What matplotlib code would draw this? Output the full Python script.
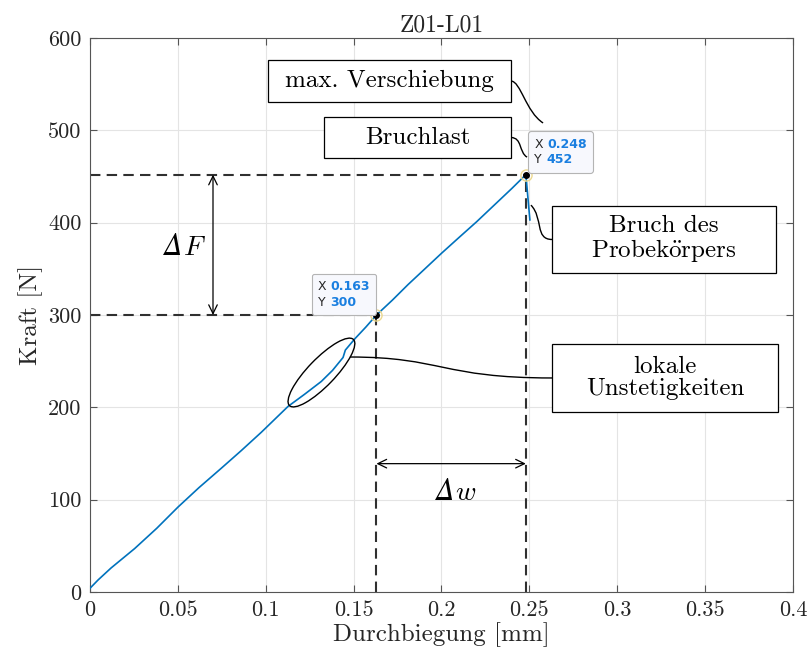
import numpy as np
import matplotlib
matplotlib.use('Agg')
import matplotlib.pyplot as plt
from matplotlib.patches import Ellipse, PathPatch, Rectangle
from matplotlib.path import Path
from matplotlib.transforms import ScaledTranslation
from matplotlib.offsetbox import TextArea, HPacker, VPacker, AnnotationBbox

plt.rcParams['font.family'] = 'cmr10'
plt.rcParams['mathtext.fontset'] = 'cm'
plt.rcParams['axes.formatter.use_mathtext'] = True

# Messkurve Z01-L01
durchbiegung = [0, 0.0046, 0.012, 0.0254, 0.038, 0.0501, 0.062, 0.0747, 0.086,
                0.0975, 0.1127, 0.122, 0.1316, 0.138, 0.1440, 0.1453, 0.1506,
                0.157, 0.163, 0.172, 0.181, 0.190, 0.2001, 0.210, 0.220, 0.230,
                0.240, 0.248, 0.2503]
kraft = [4, 13, 26, 47, 69, 92, 113, 134, 153,
         173, 201, 214, 228, 240, 254, 262, 274,
         287, 300, 316, 333, 349, 367, 384, 401, 419,
         437, 452, 403]

# Datenpunkte (Data Tips)
tip_x = [0.163, 0.248]
tip_y = [300, 452]

x_ticks = [0, 0.05, 0.1, 0.15, 0.2, 0.25, 0.3, 0.35, 0.4]
x_labels = ['0', '0.05', '0.1', '0.15', '0.2', '0.25', '0.3', '0.35', '0.4']
y_ticks = [0, 100, 200, 300, 400, 500, 600]
y_labels = ['0', '100', '200', '300', '400', '500', '600']

blau = '#0072BD'

fig = plt.figure(figsize=(8.12, 6.61), dpi=100)
ax = fig.add_axes([0.1108, 0.1044, 0.8658, 0.8381])

ax.plot(durchbiegung, kraft, color=blau, lw=1.2, zorder=3)

# Hilfslinien
ls = (0, (5, 3))
for xx, yy in zip(tip_x, tip_y):
    ax.plot([0, xx], [yy, yy], color='#303030', lw=1.5, ls=ls, zorder=2)
    ax.plot([xx, xx], [0, yy], color='#303030', lw=1.5, ls=ls, zorder=2)

# Delta F / Delta w
pfeil = dict(arrowstyle='<->,head_length=0.45,head_width=0.22', lw=0.9,
             color='k', shrinkA=0, shrinkB=0, mutation_scale=14)
ax.annotate('', xy=(0.07, tip_y[1]), xytext=(0.07, tip_y[0]), arrowprops=pfeil)
ax.annotate('', xy=(tip_x[1], 139), xytext=(tip_x[0], 139), arrowprops=pfeil)

def delta(x, y, buchstabe):
    # kursives Delta + kursiver Buchstabe auf gemeinsamer Grundlinie
    ax.annotate('Δ', xy=(x, y), xytext=(-0.3, 0), textcoords='offset points',
                fontsize=22, family='STIXGeneral', style='italic',
                ha='right', va='baseline')
    ax.annotate('$%s$' % buchstabe, xy=(x, y), xytext=(0.3, 0), textcoords='offset points',
                fontsize=20, ha='left', va='baseline')

delta(0.0529, 365, 'F')
delta(0.2077, 99.6, 'w')

# Data Tips
for xx, yy in zip(tip_x, tip_y):
    ax.plot(xx, yy, 'o', ms=8, mfc='none', mec='#ecd98f', mew=1.0, zorder=5)
    ax.plot(xx, yy, 'o', ms=4, color='k', zorder=6)

def datatip(xx, yy, sx, sy, ha):
    f = dict(family='DejaVu Sans', size=9)
    zeilen = []
    for k, v in (('X', '%g' % xx), ('Y', '%g' % yy)):
        zeilen.append(HPacker(children=[TextArea(k, textprops=dict(color='#262626', **f)),
                                        TextArea(v, textprops=dict(color='#1a7fe0', weight='bold', **f))],
                              sep=3, pad=0))
    box = VPacker(children=zeilen, sep=2, pad=0, align='left')
    ab = AnnotationBbox(box, (xx, yy), xybox=(sx, sy), boxcoords='offset points',
                        box_alignment=(ha, 0), frameon=True,
                        bboxprops=dict(boxstyle='round,pad=0.45,rounding_size=0.2',
                                       fc='#f7f8fd', ec='#b4b4b4', lw=0.8))
    ab.set_zorder(7)
    ax.add_artist(ab)

datatip(tip_x[0], tip_y[0], -4.5, 4.5, 1)
datatip(tip_x[1], tip_y[1], 6, 6, 0)

# Textfelder (x0, x1, y0, y1)
felder = [
    ('max. Verschiebung', (0.1013, 0.2395, 530.7, 576.2)),
    ('Bruchlast', (0.1331, 0.2395, 470.0, 514.4)),
    ('Bruch des\nProbek$\\ddot{\\mathrm{o}}$rpers', (0.2629, 0.3903, 345.5, 418.1)),
    ('lokale\nUnstetigkeiten', (0.2629, 0.3915, 194.9, 268.6)),
]
for txt, (x0, x1, y0, y1) in felder:
    ax.add_patch(Rectangle((x0, y0), x1 - x0, y1 - y0, fc='white', ec='k', lw=0.9, zorder=8))
    ax.text((x0 + x1) / 2, (y0 + y1) / 2, txt, fontsize=18, ha='center', va='center',
            linespacing=1.0, zorder=9)

def verbinder(p0, c1, c2, p1):
    pfad = Path([p0, c1, c2, p1], [Path.MOVETO, Path.CURVE4, Path.CURVE4, Path.CURVE4])
    ax.add_patch(PathPatch(pfad, fc='none', ec='k', lw=1.0, zorder=4))

verbinder((0.2395, 553.4), (0.2450, 553.4), (0.2480, 520), (0.2578, 508))
verbinder((0.2395, 492.2), (0.2460, 492.2), (0.2440, 476), (0.2487, 471))
verbinder((0.2509, 419), (0.2580, 405), (0.2530, 381.8), (0.2629, 381.8))
verbinder((0.1479, 254.5), (0.2000, 254.5), (0.2000, 231.8), (0.2629, 231.8))

# Ellipse um lokale Unstetigkeiten
tr = fig.dpi_scale_trans + ScaledTranslation(0.1317, 237.7, ax.transData)
ax.add_patch(Ellipse((0, 0), 0.92, 0.27, angle=46, fc='none', ec='k', lw=1.0,
                     transform=tr, zorder=4))

ax.set_xlim(0, 0.4)
ax.set_ylim(0, 600)
ax.set_xticks(x_ticks)
ax.set_xticklabels(x_labels)
ax.set_yticks(y_ticks)
ax.set_yticklabels(y_labels)
ax.tick_params(direction='in', length=5, width=0.8, top=True, right=True,
               labelsize=16, colors='#555555', labelcolor='#262626', pad=6)
ax.grid(True, color='#e4e4e4', lw=0.8)
ax.set_axisbelow(True)
for s in ax.spines.values():
    s.set_color('#555555')
    s.set_linewidth(0.8)

ax.set_xlabel('Durchbiegung [mm]', fontsize=18, color='#262626', labelpad=2)
ax.set_ylabel('Kraft [N]', fontsize=18, color='#262626', labelpad=4)
ax.set_title('Z01-L01', fontsize=17, color='#262626', pad=5)

fig.savefig('out.png', dpi=100)
